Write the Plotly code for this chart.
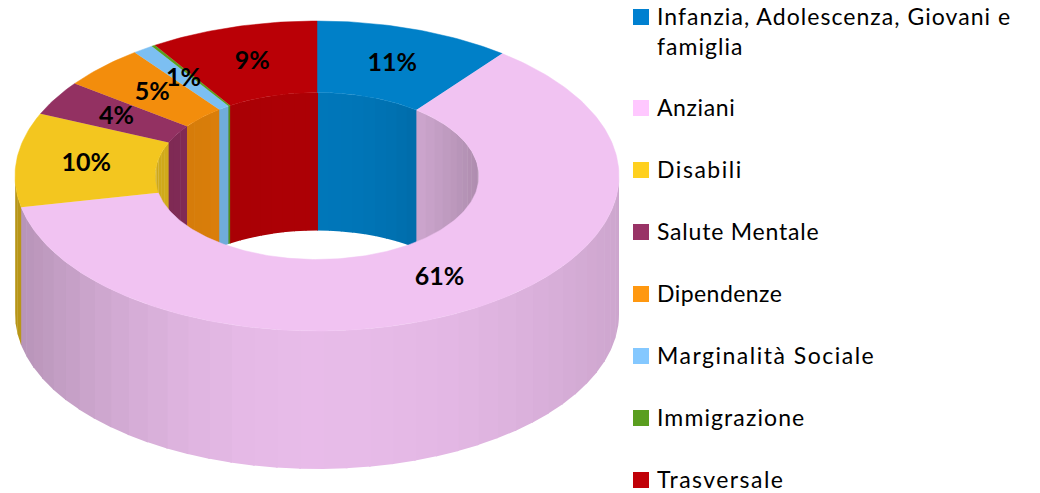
import numpy as np
import plotly.graph_objects as go

categories = ["Infanzia, Adolescenza, Giovani e<br>famiglia", "Anziani", "Disabili", "Salute Mentale",
              "Dipendenze", "Marginalità Sociale", "Immigrazione", "Trasversale"]
values = [10.5, 61.2, 9.8, 3.6, 4.5, 1.1, 0.2, 9.0]
percent_labels = ["11%", "61%", "10%", "4%", "5%", "1%", "", "9%"]
top_colors = ["#0080C8", "#F1C3F2", "#F3C61F", "#933162", "#F38D0C", "#7CBFF2", "#5A9E1F", "#BA0006"]
legend_colors = ["#0080D0", "#FFC8FF", "#FFD01F", "#993366", "#FF9810", "#84C8FF", "#5A9E1F", "#C00008"]
legend_y = [17, 108, 170, 232, 294, 356, 418, 480]
legend_spacing = [1.05, 0.6, 1.55, 0.8, 0.45, 1.5, 1.1, 1.45]

CX, CY = 317.0, 176.0
RX_OUT, RY_OUT = 302.0, 155.0
RX_IN, RY_IN = 162.0, 83.5
DEPTH = 138.0
STEP = np.radians(4.5)
OVERLAP = 0.006


def hex_rgb(c):
    return tuple(int(c[i:i + 2], 16) for i in (1, 3, 5))


def shade(c, f):
    r, g, b = hex_rgb(c)
    return f"rgb({int(r * f)},{int(g * f)},{int(b * f)})"


def pt(theta, rx, ry, dy=0.0):
    return CX + rx * np.sin(theta), CY - ry * np.cos(theta) + dy


def inner_factor(s):
    return 0.93 - 0.21 * s ** 2 if s > 0 else 0.93 - 0.08 * s ** 2


def outer_factor(s):
    return 0.963 - 0.11 * s ** 2 if s > 0 else 0.963 - 0.21 * s ** 2


total = sum(values)
edges = np.cumsum([0.0] + values) / total * 2 * np.pi

fig = go.Figure()


def add_poly(xs, ys, color, width=0.0):
    fig.add_trace(go.Scatter(x=np.round(xs, 2).tolist(), y=np.round(ys, 2).tolist(), mode="lines",
                             fill="toself", fillcolor=color, line=dict(color=color, width=width),
                             hoverinfo="skip", showlegend=False))


def bands(a, b):
    n = max(1, int(np.ceil((b - a) / STEP)))
    return np.linspace(a, b, n + 1)


def add_wall(a, b, rx, ry, color, factor):
    ts = bands(a, b)
    for t0, t1 in zip(ts[:-1], ts[1:]):
        arc = np.linspace(t0, min(t1 + OVERLAP, b + OVERLAP), 6)
        xt, yt = pt(arc, rx, ry)
        xb, yb = pt(arc[::-1], rx, ry, DEPTH)
        add_poly(np.r_[xt, xb], np.r_[yt, yb], shade(color, factor(np.sin((t0 + t1) / 2))))


# Back half of the inner wall (theta in -90..90 degrees)
for i, c in enumerate(top_colors):
    a, b = edges[i], edges[i + 1]
    for lo, hi in ((a, min(b, np.pi / 2)), (max(a, 1.5 * np.pi), b)):
        if hi > lo:
            add_wall(lo, hi, RX_IN, RY_IN, c, inner_factor)

# Front half of the outer wall (theta in 90..270 degrees)
for i, c in enumerate(top_colors):
    lo, hi = max(edges[i], np.pi / 2), min(edges[i + 1], 1.5 * np.pi)
    if hi > lo:
        add_wall(lo, hi, RX_OUT, RY_OUT, c, outer_factor)

# Top face
for i, c in enumerate(top_colors):
    a, b = edges[i], edges[i + 1]
    arc = np.linspace(a, b, max(4, int((b - a) / np.radians(1)) + 2))
    xo, yo = pt(arc, RX_OUT, RY_OUT)
    xi, yi = pt(arc[::-1], RX_IN, RY_IN)
    add_poly(np.r_[xo, xi], np.r_[yo, yi], c, width=0.5)

# Percent labels at mid-ring of every slice
mids = (edges[:-1] + edges[1:]) / 2
lx, ly = pt(mids, (RX_OUT + RX_IN) / 2, (RY_OUT + RY_IN) / 2, 1.5)
fig.add_trace(go.Scatter(x=lx.tolist(), y=ly.tolist(), mode="text", text=percent_labels,
                         textposition="middle center",
                         textfont=dict(family="Lato", size=25, color="black", weight="bold"),
                         hoverinfo="skip", showlegend=False))

# Legend
fig.add_trace(go.Scatter(x=[641] * len(legend_y), y=legend_y, mode="markers",
                         marker=dict(symbol="square", size=16, color=legend_colors, line=dict(width=0)),
                         hoverinfo="skip", showlegend=False))
for name, y in zip(categories, legend_y):
    two_lines = "<br>" in name
    fig.add_annotation(x=655, y=y - 1 + (15 if two_lines else 0), text=name, showarrow=False,
                       xanchor="left", yanchor="middle", align="left",
                       font=dict(family="Lato", size=23, color="black"))

fig.update_layout(width=1040, height=493, margin=dict(l=0, r=0, t=0, b=0),
                  paper_bgcolor="white", plot_bgcolor="white", showlegend=False,
                  xaxis=dict(range=[0, 1040], visible=False, fixedrange=True),
                  yaxis=dict(range=[493, 0], visible=False, fixedrange=True))

post = """
document.body.style.margin = '0';
document.body.style.overflow = 'hidden';
var spacing = %s;
function applySpacing() {
  document.querySelectorAll('.annotation-text').forEach(function (el, i) {
    el.style.letterSpacing = spacing[i] + 'px';
  });
}
applySpacing();
setTimeout(applySpacing, 0);
var gd = document.getElementById('{plot_id}');
if (gd && gd.on) { gd.on('plotly_afterplot', applySpacing); }
""" % (legend_spacing,)
fig.write_html("out.html", config=dict(displayModeBar=False), post_script=post)
